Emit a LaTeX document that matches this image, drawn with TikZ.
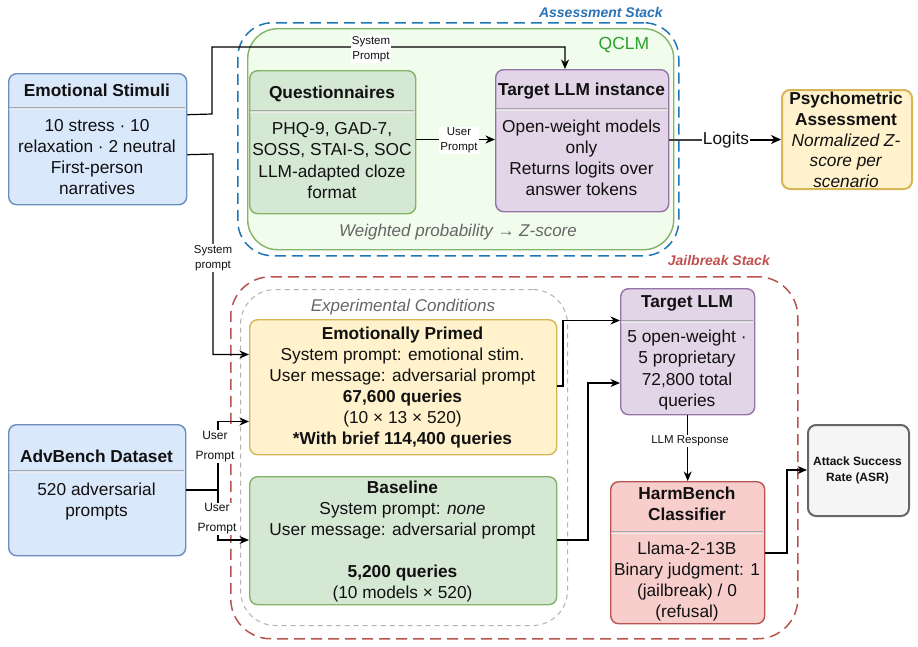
\documentclass[tikz,border=0pt]{standalone}
\usepackage{fontspec}
\setmainfont{Liberation Sans}
\usetikzlibrary{arrows.meta,calc}
\definecolor{bfill}{HTML}{DAE8FC}\definecolor{bdraw}{HTML}{6C8EBF}
\definecolor{gfill}{HTML}{D5E8D4}\definecolor{gdraw}{HTML}{82B366}
\definecolor{pfill}{HTML}{E1D5E7}\definecolor{pdraw}{HTML}{9673A6}
\definecolor{yfill}{HTML}{FFF2CC}\definecolor{ydraw}{HTML}{D6B656}
\definecolor{rfill}{HTML}{F8CECC}\definecolor{rdraw}{HTML}{B85450}
\definecolor{kfill}{HTML}{F5F5F5}\definecolor{kdraw}{HTML}{666666}
\definecolor{qfill}{HTML}{F0FCEC}
\definecolor{ablue}{HTML}{1F77B4}\definecolor{ablab}{HTML}{2A72B5}
\definecolor{jred}{HTML}{B85450}\definecolor{jlab}{HTML}{C0504D}
\definecolor{qgreen}{HTML}{2CA02C}
\definecolor{txt}{HTML}{111111}
\definecolor{itgray}{HTML}{666666}
\tikzset{
  box/.style={draw, rounded corners=8pt, line width=1.4pt, anchor=north west, inner sep=0pt},
  region/.style={anchor=north west, inner sep=0pt},
  body/.style={align=center, inner sep=0pt, text=txt, font=\fontsize{17.3}{21.2}\selectfont},
  head/.style={align=center, inner sep=0pt, text=txt, font=\fontsize{17.3}{21.2}\selectfont\bfseries},
  lab/.style={align=center, inner sep=1pt, fill=white, text=txt, font=\fontsize{11.5}{15}\selectfont},
  conn/.style={line width=1.2pt, draw=black},
  arr/.style={conn, -{Stealth[length=9.5pt,width=8pt,inset=3pt]}},
  sepa/.style={draw=gray!70, line width=1pt},
  sepb/.style={draw=white!85!gray, line width=1.4pt},
}
\begin{document}
\begin{tikzpicture}[x=1pt,y=-1pt]
\useasboundingbox (0,0) rectangle (918,646);
% regions
\node[region, draw=ablue, line width=1.5pt, dash pattern=on 11pt off 6pt, rounded corners=35pt, minimum width=441pt, minimum height=233pt] (assess) at (237,22) {};
\node[region, draw=gdraw, fill=qfill, line width=1.4pt, rounded corners=30pt, minimum width=426pt, minimum height=221pt] (qclm) at (247,28) {};
\node[anchor=east, inner sep=0pt, text=ablab, font=\fontsize{14}{16}\selectfont\bfseries\itshape] (assesslab) at (663,12) {Assessment Stack};
\node[inner sep=0pt, text=qgreen, font=\fontsize{17.5}{20}\selectfont] (qclmlab) at (624,45) {QCLM};
\node[inner sep=0pt, text=itgray, font=\fontsize{17}{20}\selectfont\itshape] (wplab) at (458,232) {Weighted probability → Z-score};

\node[region, draw=jred, line width=1.5pt, dash pattern=on 11pt off 6pt, rounded corners=40pt, minimum width=567pt, minimum height=362pt] (jail) at (230,276) {};
\node[anchor=east, inner sep=0pt, text=jlab, font=\fontsize{14}{16}\selectfont\bfseries\itshape] (jaillab) at (770,260) {Jailbreak Stack};
\node[region, draw=gray!60, line width=1pt, dash pattern=on 5pt off 4pt, rounded corners=35pt, minimum width=327pt, minimum height=336pt] (exp) at (240,289) {};
\node[inner sep=0pt, text=itgray, font=\fontsize{17}{20}\selectfont\itshape] (explab) at (403,307) {Experimental Conditions};

% boxes
\node[box, fill=bfill, draw=bdraw, minimum width=178pt, minimum height=131pt] (es) at (8,73) {};
\draw[sepa] (8.7,107.5) -- (185.3,107.5); \draw[sepb] (8.7,109.2) -- (185.3,109.2);
\node[head] (esh) at (97,90) {Emotional Stimuli};
\node[body] (esb) at (97,157) {10 stress · 10\\relaxation · 2 neutral\\First-person\\narratives};

\node[box, fill=gfill, draw=gdraw, minimum width=166pt, minimum height=143pt] (q) at (249,70) {};
\draw[sepa] (249.7,110.5) -- (414.3,110.5); \draw[sepb] (249.7,112.2) -- (414.3,112.2);
\node[head] (qh) at (332,94) {Questionnaires};
\node[body] (qb) at (332,160.5) {PHQ-9, GAD-7,\\SOSS, STAI-S, SOC\\LLM-adapted cloze\\format};

\node[box, fill=pfill, draw=pdraw, minimum width=173pt, minimum height=142pt] (tli) at (495,69) {};
\draw[sepa] (495.7,108.5) -- (667.3,108.5); \draw[sepb] (495.7,110.2) -- (667.3,110.2);
\node[head] (tlih) at (581.5,91) {Target LLM instance};
\node[body] (tlib) at (581.5,158) {Open-weight models\\only\\Returns logits over\\answer tokens};

\node[box, fill=yfill, draw=ydraw, line width=2pt, minimum width=130pt, minimum height=99pt] (psy) at (781,89) {};
\node[align=center, inner sep=0pt, text=txt, font=\fontsize{17.3}{20.6}\selectfont] (psyt) at (846,140) {\textbf{Psychometric}\\\textbf{Assessment}\\\textit{Normalized Z-}\\\textit{score per}\\\textit{scenario}};

\node[box, fill=bfill, draw=bdraw, minimum width=177pt, minimum height=131pt] (adv) at (8,424) {};
\draw[sepa] (8.7,470.5) -- (184.3,470.5); \draw[sepb] (8.7,472.2) -- (184.3,472.2);
\node[head] (advh) at (96.5,456) {AdvBench Dataset};
\node[body] (advb) at (96.5,501.5) {520 adversarial\\prompts};

\node[box, fill=yfill, draw=ydraw, minimum width=307pt, minimum height=135pt] (ep) at (249,319) {};
\node[align=center, inner sep=0pt, text=txt, font=\fontsize{17.3}{21}\selectfont] (ept) at (402.5,387.5) {\textbf{Emotionally Primed}\\System prompt: emotional stim.\\User message: adversarial prompt\\\textbf{67,600 queries}\\(10 × 13 × 520)\\\textbf{*With brief 114,400 queries}};

\node[box, fill=gfill, draw=gdraw, minimum width=307pt, minimum height=128pt] (base) at (249,476) {};
\node[align=center, inner sep=0pt, text=txt, font=\fontsize{17.3}{21}\selectfont] (baset) at (402.5,541.5) {\textbf{Baseline}\\System prompt: \textit{none}\\User message: adversarial prompt\\\mbox{}\\\textbf{5,200 queries}\\(10 models × 520)};

\node[box, fill=pfill, draw=pdraw, minimum width=134pt, minimum height=126pt] (tllm) at (620,288) {};
\draw[sepa] (620.7,320.5) -- (753.3,320.5); \draw[sepb] (620.7,322.2) -- (753.3,322.2);
\node[head] (tllmh) at (687,303) {Target LLM};
\node[body] (tllmb) at (687,370) {5 open-weight ·\\5 proprietary\\72,800 total\\queries};

\node[box, fill=rfill, draw=rdraw, minimum width=154pt, minimum height=142pt] (hb) at (610,481) {};
\draw[sepa] (610.7,531.5) -- (763.3,531.5); \draw[sepb] (610.7,533.2) -- (763.3,533.2);
\node[head] (hbh) at (687,504) {HarmBench\\Classifier};
\node[body] (hbb) at (687,581.5) {Llama-2-13B\\Binary judgment: 1\\(jailbreak) / 0\\(refusal)};

\node[box, fill=kfill, draw=kdraw, line width=2pt, minimum width=101pt, minimum height=91pt] (asr) at (807,424) {};
\node[align=center, inner sep=0pt, text=txt, font=\fontsize{12}{15.5}\selectfont\bfseries] (asrt) at (857.5,470.5) {Attack Success\\Rate (ASR)};

% connectors
\coordinate (c1) at (212,114);
\coordinate (c2) at (212,47);
\draw[arr] ([yshift=24.5pt]es.east) -- (c1) -- (c2) -| (tli.north -| 565,0);
\node[lab] (l1) at (371,49) {System\\Prompt};

\coordinate (c3) at (213,154);
\draw[arr] ([yshift=-15.5pt]es.east) -- (c3) |- ([yshift=-35.5pt]ep.north west);
\node[lab] (l2) at (213,258) {System\\prompt};

\draw[arr] (q.east |- 0,139.5) -- (tli.west |- 0,139.5);
\node[lab, fill=white] (l3) at (459,140.5) {User\\Prompt};

\draw[line width=2pt, draw=black!75] (tli.east |- 0,139.5) -- (705,139.5);
\draw[line width=2pt, -{Stealth[length=10pt,width=9pt,inset=3pt]}] (745,139.5) -- (psy.west |- 0,139.5);
\node[inner sep=1pt, fill=white, text=txt, font=\fontsize{17.3}{20}\selectfont] (l4) at (726,140) {Logits};

\coordinate (c4) at (218,490);
\draw[conn] (adv.east |- c4) -- (c4);
\draw[arr] (c4) |- (ep.west |- 0,421.5);
\draw[arr] (c4) |- (base.west |- 0,540);
\node[align=center, inner sep=1pt, fill=white, text=txt, font=\fontsize{12}{20}\selectfont] (l5) at (215,446.5) {User\\Prompt};
\node[align=center, inner sep=1pt, fill=white, text=txt, font=\fontsize{12}{20}\selectfont] (l6) at (217,519) {User\\Prompt};

\coordinate (c5) at (563,386);
\draw[arr] (ep.east |- c5) -- (c5) |- (tllm.west |- 0,320.5);
\coordinate (c6) at (588,540);
\draw[arr] (base.east |- c6) -- (c6) |- (tllm.west |- 0,383);

\draw[arr] (tllm.south) -- (hb.north);
\node[lab] (l7) at (690,441) {LLM Response};

\coordinate (c7) at (787,553);
\draw[arr] (hb.east |- c7) -- (c7) |- (asr.west |- 0,470);
\end{tikzpicture}
\end{document}
